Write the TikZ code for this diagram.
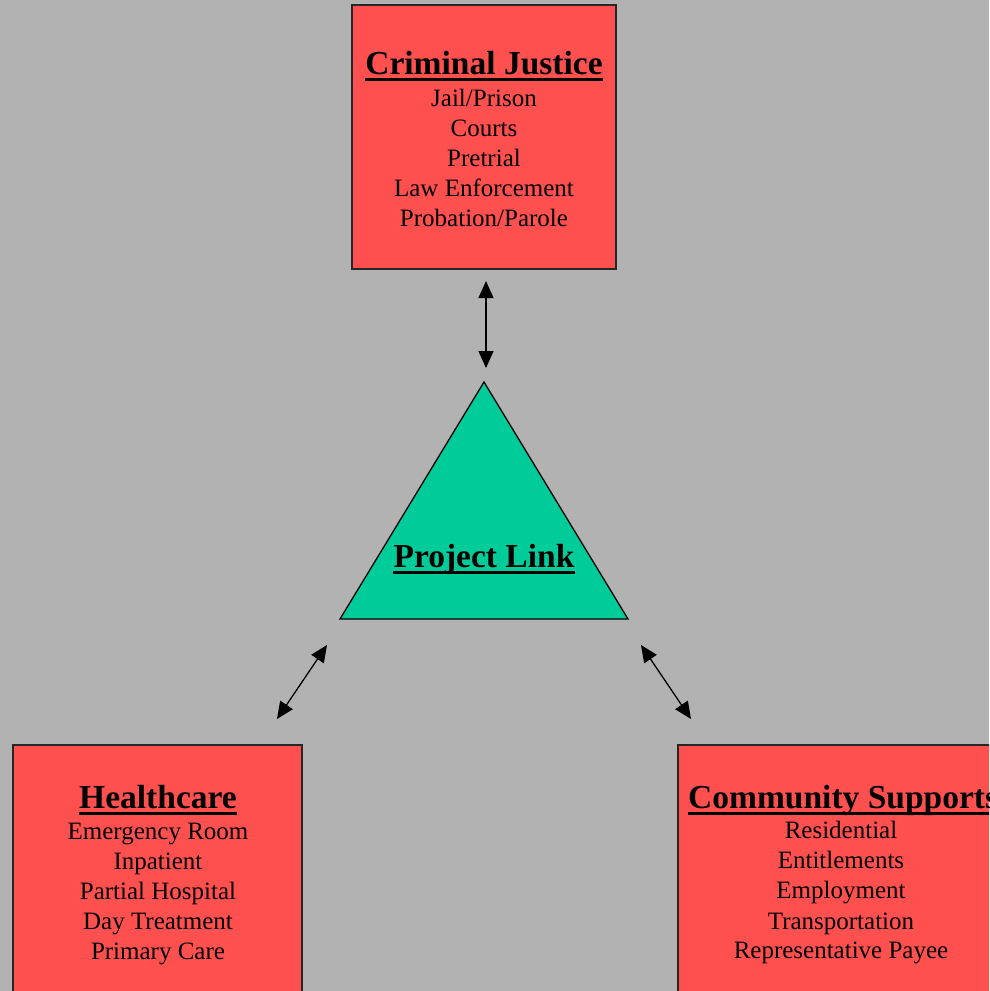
\documentclass[tikz,border=0pt]{standalone}
\usepackage{fontspec}
\setmainfont{Liberation Serif}
\usetikzlibrary{arrows.meta}
\definecolor{bggray}{RGB}{178,178,178}
\definecolor{boxred}{RGB}{255,80,80}
\definecolor{trigreen}{RGB}{0,204,153}
\tikzset{
  box/.style={draw=black!85, line width=1.3pt, fill=boxred, rectangle, inner sep=0pt},
  ttl/.style={font=\fontsize{33.5}{40}\selectfont\bfseries, inner sep=0pt, anchor=base},
  item/.style={font=\fontsize{25}{30}\selectfont, inner sep=0pt, anchor=base},
  uline/.style={line width=3pt},
  link/.style={line width=1.3pt, {Triangle[length=17pt,width=15pt]}-{Triangle[length=17pt,width=15pt]}}
}
\begin{document}
\begin{tikzpicture}[x=1pt,y=-1pt]
\useasboundingbox (0,0) rectangle (989,991);
\clip (0,0) rectangle (989,991);
\fill[bggray] (0,0) rectangle (989,991);
% boxes
\node[box, minimum width=264pt, minimum height=264pt] (cj) at (484,137) {};
\node[box, minimum width=289pt, minimum height=400pt] (hc) at (157.5,945) {};
\node[box, minimum width=400pt, minimum height=400pt] (cs) at (878,945) {};
% triangle
\coordinate (tA) at (484,382);
\coordinate (tL) at (340,619);
\coordinate (tR) at (628,619);
\draw[fill=trigreen, line width=1.3pt, line join=miter] (tA) -- (tL) -- (tR) -- cycle;
% Criminal Justice
\node[ttl] (cjt) at (484,74) {Criminal Justice};
\draw[uline] ([yshift=-5.5pt]cjt.base west) -- ([yshift=-5.5pt]cjt.base east);
\node[item] (cj1) at (484,106) {Jail/Prison};
\node[item] (cj2) at (484,136) {Courts};
\node[item] (cj3) at (484,166) {Pretrial};
\node[item] (cj4) at (484,196) {Law Enforcement};
\node[item] (cj5) at (484,226) {Probation/Parole};
% Healthcare
\node[ttl] (hct) at (158,808) {Healthcare};
\draw[uline] ([yshift=-5.5pt]hct.base west) -- ([yshift=-5.5pt]hct.base east);
\node[item] (hc1) at (158,839) {Emergency Room};
\node[item] (hc2) at (158,869) {Inpatient};
\node[item] (hc3) at (158,899) {Partial Hospital};
\node[item] (hc4) at (158,929) {Day Treatment};
\node[item] (hc5) at (158,959) {Primary Care};
% Community Supports
\node[ttl, anchor=base west] (cst) at (688,808) {Community Supports};
\draw[uline] ([yshift=-5.5pt]cst.base west) -- ([yshift=-5.5pt]cst.base east);
\node[item] (cs1) at (841,838) {Residential};
\node[item] (cs2) at (841,868) {Entitlements};
\node[item] (cs3) at (841,898) {Employment};
\node[item] (cs4) at (841,929) {Transportation};
\node[item] (cs5) at (841,958) {Representative Payee};
% Project Link
\node[ttl] (pl) at (484,567) {Project Link};
\draw[uline] ([yshift=-5.5pt]pl.base west) -- ([yshift=-5.5pt]pl.base east);
% arrow ends
\coordinate (a1) at (486,281);
\coordinate (a2) at (486,368);
\coordinate (b1) at (327,645);
\coordinate (b2) at (277,719);
\coordinate (c1) at (641,645);
\coordinate (c2) at (691,719);
\draw[link] (a1) -- (a2);
\draw[link] (b1) -- (b2);
\draw[link] (c1) -- (c2);
\end{tikzpicture}
\end{document}
